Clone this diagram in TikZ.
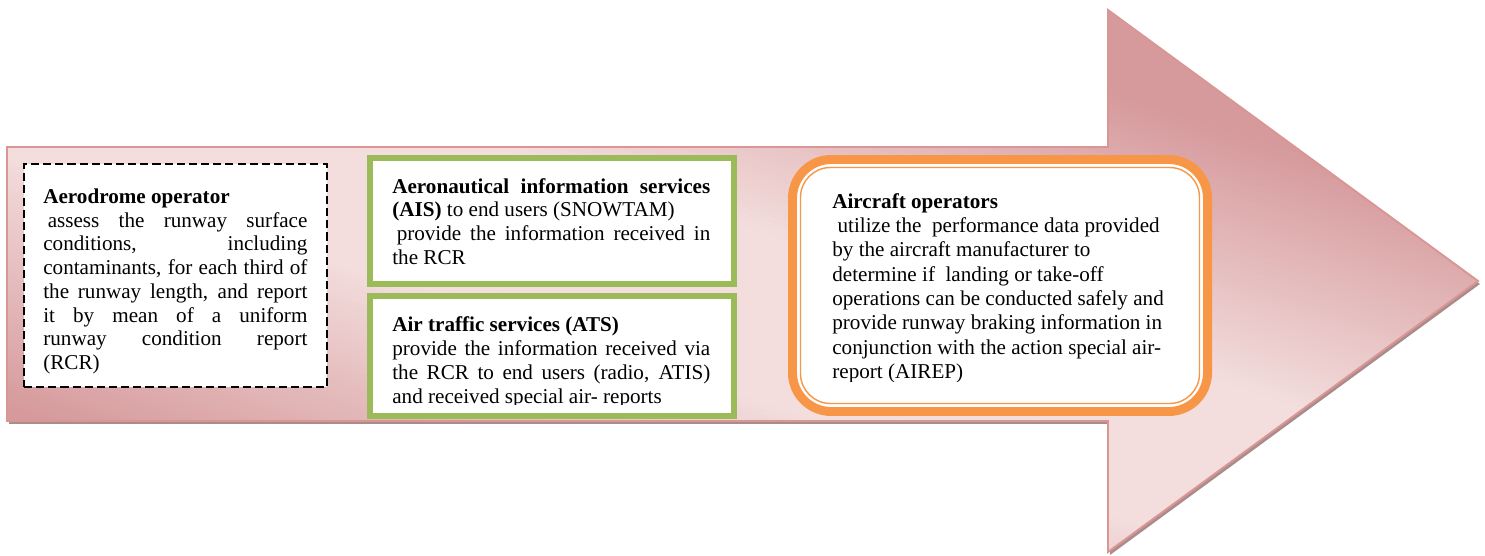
\documentclass[tikz,border=0pt]{standalone}
\usepackage{fontspec}
\setmainfont{Liberation Serif}
\usetikzlibrary{fit}
\definecolor{arrowedge}{RGB}{217,150,148}
\definecolor{arrowdark}{RGB}{214,154,156}
\definecolor{arrowlight}{RGB}{243,221,221}
\definecolor{arrowshadow}{RGB}{170,140,140}
\definecolor{boxgreen}{RGB}{155,187,89}
\definecolor{boxorange}{RGB}{247,150,70}
\begin{document}
\begin{tikzpicture}[x=0.568pt,y=-0.568pt,
  txt/.style={anchor=base west, inner sep=0pt},
  dashbox/.style={draw=black, line width=1.15pt, dash pattern=on 4.6pt off 2.3pt, fill=white, inner sep=0pt},
  greenbox/.style={draw=boxgreen, line width=3.4pt, fill=white, inner sep=0pt},
  orangebox/.style={draw=boxorange, line width=5.1pt, fill=white, inner sep=0pt, rounded corners=22pt},
  orangeinner/.style={draw=boxorange, line width=0.8pt, inner sep=0pt, rounded corners=17pt},
  band/.style={rotate around={-18:(742,310)}}]
\useasboundingbox (0,0) rectangle (1485,556);
% shadow
\fill[arrowshadow] (9,150) -- (1110,150) -- (1110,13) -- (1480,284) -- (1110,555) -- (1110,424) -- (9,424) -- cycle;
% arrow body with gradient
\begin{scope}
\clip (7,147) -- (1108,147) -- (1108,10) -- (1478,281) -- (1108,552) -- (1108,421) -- (7,421) -- cycle;
\fill[arrowdark] (0,0) rectangle (1485,556);
\foreach \i in {0,...,106} {
  \pgfmathsetmacro\p{min(100,max(0,(320-abs(6*\i+3-320))/240*100))}
  \fill[band, arrowlight!\p!arrowdark] (-700,6*\i-10) rectangle (2200,6*\i-3.4);
}
\end{scope}
\draw[arrowedge, line width=1.1pt, line join=miter] (7,147) -- (1108,147) -- (1108,10) -- (1478,281) -- (1108,552) -- (1108,421) -- (7,421) -- cycle;
% boxes
\node[dashbox, fit={(24,164) (327,387)}] (aero) {};
\node[greenbox, fit={(370,158) (734,284)}] (ais) {};
\node[greenbox, fit={(370,296) (734,416)}] (ats) {};
\node[orangebox, fit={(792.5,159.5) (1207.5,411.5)}] (acft) {};
\node[orangeinner, fit={(800.5,167.5) (1199.5,403.5)}] (acftin) {};
% texts
\node[txt] (t1) at (43,203.3) {\parbox[t]{150pt}{\fontsize{12}{13.5}\selectfont
\textbf{Aerodrome operator}\\
\makebox[150pt][s]{\kern2.5pt assess the runway surface}\\
\makebox[150pt][s]{conditions, including}\\
\makebox[150pt][s]{contaminants, for each third of}\\
\makebox[150pt][s]{the runway length, and report}\\
\makebox[150pt][s]{it by mean of a uniform}\\
\makebox[150pt][s]{runway condition report}\\
(RCR)}};
\node[txt] (t2) at (392,193.3) {\parbox[t]{180.6pt}{\fontsize{12}{13.4}\selectfont
\makebox[180.6pt][s]{\textbf{Aeronautical information services}}\\
\textbf{(AIS)} to end users (SNOWTAM)\\
\makebox[180.6pt][s]{\kern2.5pt provide the information received in}\\
the RCR}};
\begin{scope}
\clip (376,300) rectangle (730,405);
\node[txt] (t3) at (392,331.7) {\parbox[t]{180.6pt}{\fontsize{12}{13.6}\selectfont
\textbf{Air traffic services (ATS)}\\
\makebox[180.6pt][s]{provide the information received via}\\
\makebox[180.6pt][s]{the RCR to end users (radio, ATIS)}\\
and received special air- reports}};
\end{scope}
\begin{scope}
\clip (806,172) rectangle (1195,382);
\node[txt] (t4) at (832,208.3) {\parbox[t]{200pt}{\fontsize{12}{13.8}\selectfont
\textbf{Aircraft operators}\\
\hspace*{3pt}utilize the \ performance data provided\\
by the aircraft manufacturer to\\
determine if \ landing or take-off\\
operations can be conducted safely and\\
provide runway braking information in\\
conjunction with the action special air-\\
report (AIREP)}};
\end{scope}
\end{tikzpicture}
\end{document}
